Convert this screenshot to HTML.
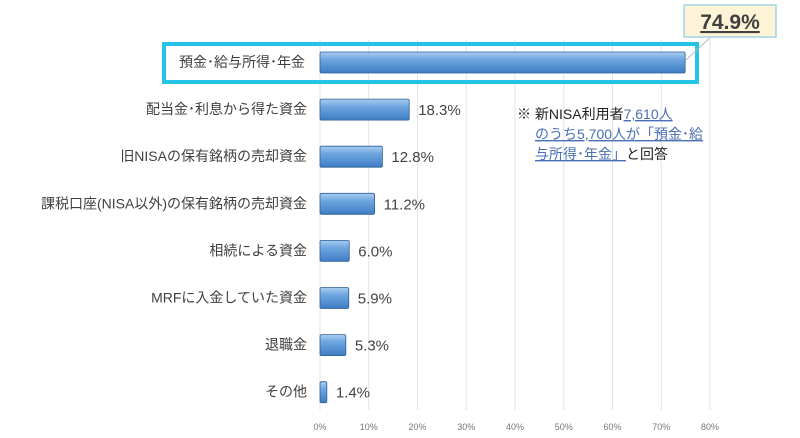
<!DOCTYPE html>
<html><head><meta charset="utf-8"><style>
body{margin:0;background:#fff;}
svg{display:block;font-family:"Liberation Sans","Noto Sans CJK JP",sans-serif;}
</style></head><body>
<svg id="c" width="800" height="438">
<defs>
<linearGradient id="g" x1="0" y1="0" x2="0" y2="1">
<stop offset="0" stop-color="#a9cdf0"/><stop offset="0.35" stop-color="#6fa6e0"/><stop offset="1" stop-color="#3d7cc4"/>
</linearGradient>
</defs>
<g id="grid"></g><g id="bars"></g>
<rect x="164" y="44" width="533" height="38" fill="none" stroke="#25c3e6" stroke-width="4"/>
<line x1="686" y1="60" x2="712" y2="36" stroke="#bbb" stroke-width="1"/>
<rect x="684" y="5" width="92" height="32" fill="#fdf3d6" stroke="#9fd3e6" stroke-width="1.5"/>
<text x="730" y="29" text-anchor="middle" font-size="21" font-weight="bold" fill="#404040" text-decoration="underline">74.9%</text>
<g font-size="14">
<text x="517" y="119" fill="#222">※  新NISA利用者<tspan fill="#4a6fb5" text-decoration="underline">7,610人</tspan></text>
<text x="535" y="139" fill="#4a6fb5" text-decoration="underline">のうち5,700人が「預金･給</text>
<text x="535" y="159" fill="#4a6fb5"><tspan text-decoration="underline">与所得･年金」</tspan><tspan fill="#222">と回答</tspan></text>
</g>
</svg>
<script>
const categories=["預金･給与所得･年金","配当金･利息から得た資金","旧NISAの保有銘柄の売却資金","課税口座(NISA以外)の保有銘柄の売却資金","相続による資金","MRFに入金していた資金","退職金","その他"];
const values=[74.9,18.3,12.8,11.2,6.0,5.9,5.3,1.4];
const ticks=[0,10,20,30,40,50,60,70,80];
const NS="http://www.w3.org/2000/svg";
const x=v=>320+v*4.875;
const y=i=>62+i*47.1;
function mk(t,a,p){const e=document.createElementNS(NS,t);for(const k in a)e.setAttribute(k,a[k]);p.appendChild(e);return e;}
const G=document.getElementById('grid'),B=document.getElementById('bars');
ticks.forEach(t=>{
 const l=mk('line',{x1:x(t),x2:x(t),y1:40,y2:410,stroke:'#e3e3e3','stroke-width':1},G);
 
 
 const tx=mk('text',{x:x(t),y:430,'text-anchor':'middle','font-size':9,fill:'#777'},G);
 tx.textContent=t+'%';
 
 
});
categories.forEach((c,i)=>{
 const cy=y(i);
 const lb=mk('text',{x:i==0?305:307,y:cy+5,'text-anchor':'end','font-size':14,fill:'#404040'},B);
 lb.textContent=c;
 
 
 const r=mk('rect',{x:320,y:cy-10,width:x(values[i])-320,height:21,fill:'url(#g)',stroke:'#2f5f95','stroke-width':0.8,rx:1.5},B);
 
 
 if(i>0){
  const v=mk('text',{x:x(values[i])+9,y:cy+6,'font-size':15,fill:'#444'},B);
  v.textContent=values[i].toFixed(1)+'%';
  
  
 }
});
</script>
</body></html>
